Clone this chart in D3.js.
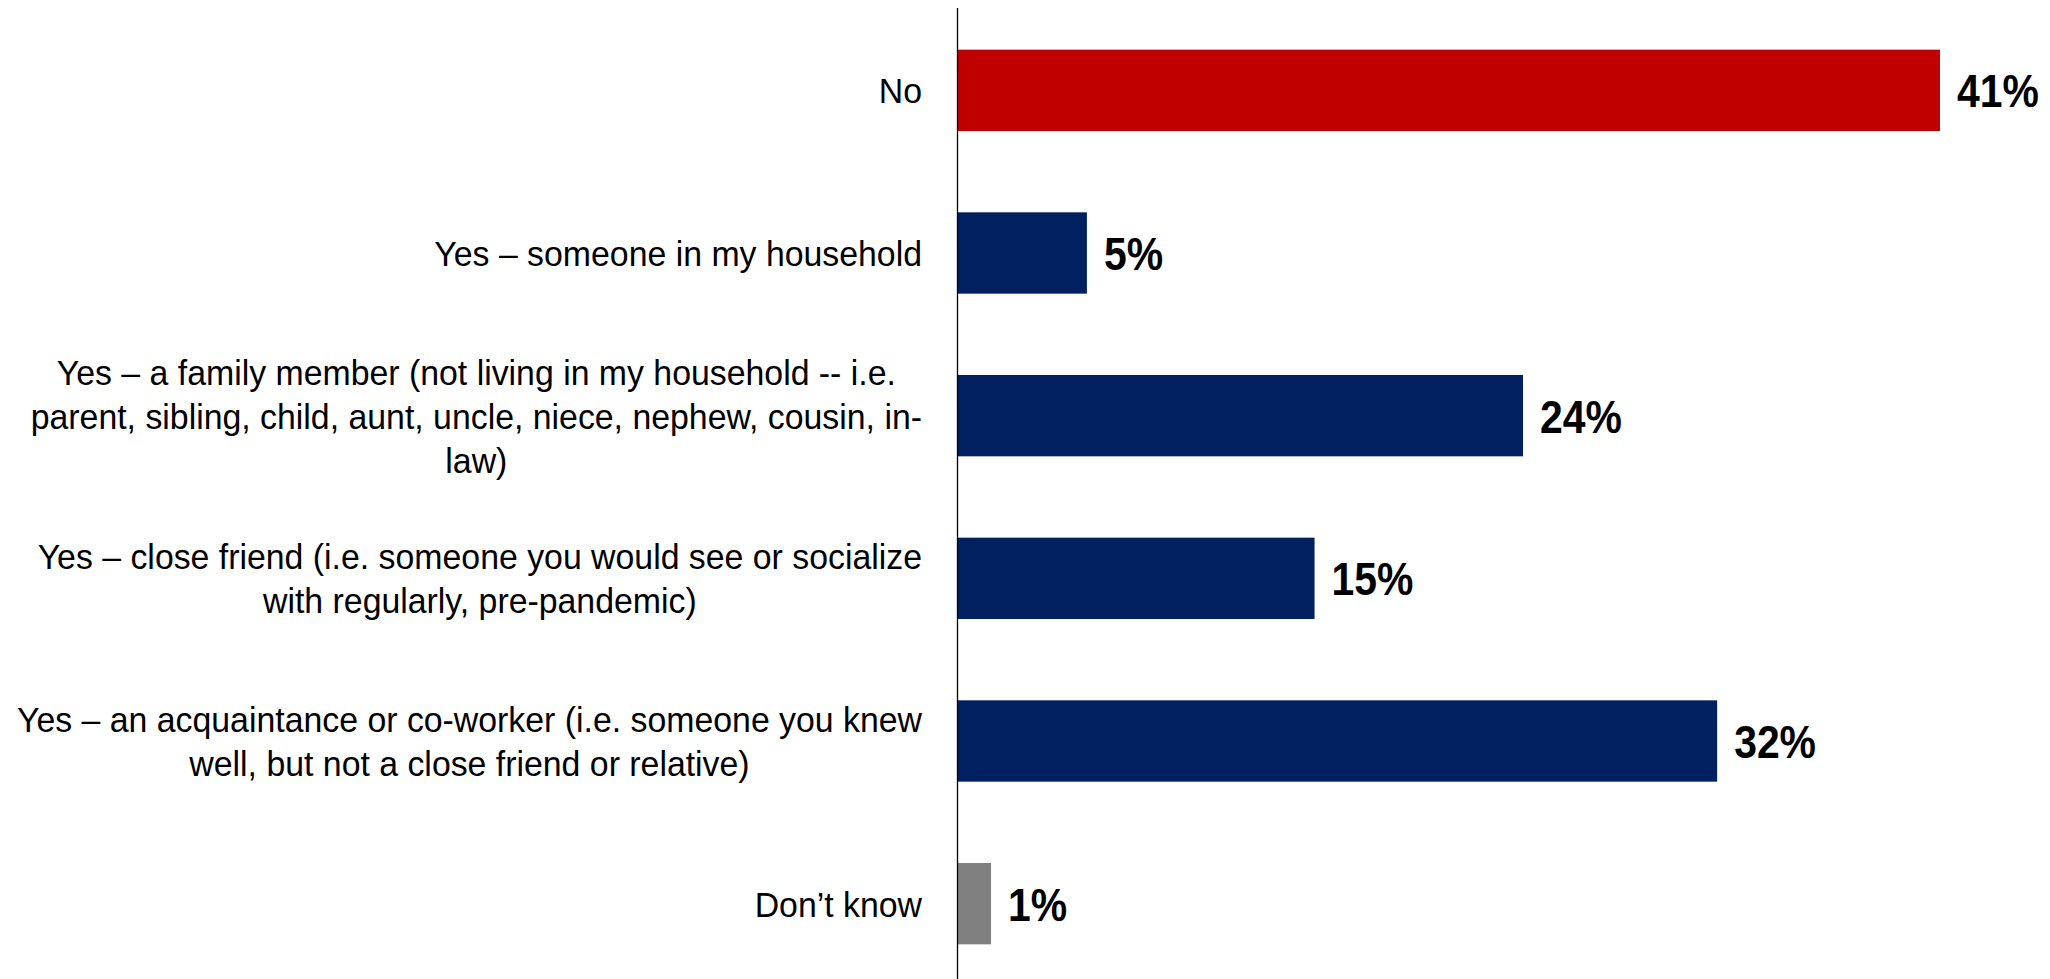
<!DOCTYPE html>
<html>
<head>
<meta charset="utf-8">
<script src="https://cdn.jsdelivr.net/npm/d3@7"></script>
<style>
  html, body { margin: 0; padding: 0; background: #ffffff; }
  svg { display: block; }
</style>
</head>
<body>
<svg id="chart" width="2050" height="979"></svg>
<script>
// ---- data ----
const categories = [
  "No",
  "Yes – someone in my household",
  "Yes – a family member (not living in my household -- i.e. parent, sibling, child, aunt, uncle, niece, nephew, cousin, in-law)",
  "Yes – close friend (i.e. someone you would see or socialize with regularly, pre-pandemic)",
  "Yes – an acquaintance or co-worker (i.e. someone you knew well, but not a close friend or relative)",
  "Don’t know"
];
const categoryLines = [
  ["No"],
  ["Yes – someone in my household"],
  ["Yes – a family member (not living in my household -- i.e.", "parent, sibling, child, aunt, uncle, niece, nephew, cousin, in-", "law)"],
  ["Yes – close friend (i.e. someone you would see or socialize", "with regularly, pre-pandemic)"],
  ["Yes – an acquaintance or co-worker (i.e. someone you knew", "well, but not a close friend or relative)"],
  ["Don’t know"]
];
const values = [41, 5.4, 23.6, 14.9, 31.7, 1.4];   // percent
const valueLabels = ["41%", "5%", "24%", "15%", "32%", "1%"];
const barColors = ["#C00000", "#002060", "#002060", "#002060", "#002060", "#808080"];

// ---- layout ----
const W = 2050, H = 979;
const axisX = 957.5;
const labelRight = 922;
const font = "'Liberation Sans', Arial, sans-serif";
const labelSqueeze = 0.94;
const valueSqueeze = 0.87;

const svg = d3.select("#chart");

const x = d3.scaleLinear().domain([0, 41]).range([axisX, 1940]);
const y = d3.scaleBand().domain(categories).range([9, 985]).paddingInner(0.5).paddingOuter(0.25);

// bars
svg.append("g").selectAll("rect")
  .data(categories)
  .join("rect")
  .attr("x", x(0))
  .attr("y", d => y(d))
  .attr("width", (d, i) => x(values[i]) - x(0))
  .attr("height", y.bandwidth())
  .attr("fill", (d, i) => barColors[i]);

// value labels
svg.append("g").selectAll("text")
  .data(categories)
  .join("text")
  .attr("transform", (d, i) => `translate(${x(values[i]) + 17},${y(d) + y.bandwidth() / 2}) scale(${valueSqueeze},1)`)
  .attr("dy", "0.36em")
  .attr("font-family", font)
  .attr("font-weight", "bold")
  .attr("font-size", 47)
  .attr("fill", "#000")
  .text((d, i) => valueLabels[i]);

// category labels (centered block, right-aligned to labelRight)
const lineH = 44;
const lab = svg.append("g")
  .attr("transform", `translate(${labelRight},0) scale(${labelSqueeze},1)`);
categories.forEach((c, i) => {
  const lines = categoryLines[i];
  const t = lab.append("text")
    .attr("font-family", font)
    .attr("font-size", 36)
    .attr("fill", "#000")
    .attr("text-anchor", "middle");
  const cy = y(c) + y.bandwidth() / 2;
  const n = lines.length;
  const spans = lines.map((ln, k) => t.append("tspan")
    .attr("y", cy + (k - (n - 1) / 2) * lineH)
    .attr("dy", "0.36em")
    .text(ln));
  const maxW = d3.max(spans, s => s.node().getComputedTextLength());
  spans.forEach(s => s.attr("x", -maxW / 2));
});

// vertical axis line
svg.append("line")
  .attr("x1", axisX).attr("x2", axisX)
  .attr("y1", 8).attr("y2", H)
  .attr("stroke", "#000")
  .attr("stroke-width", 1.3);
</script>
</body>
</html>
